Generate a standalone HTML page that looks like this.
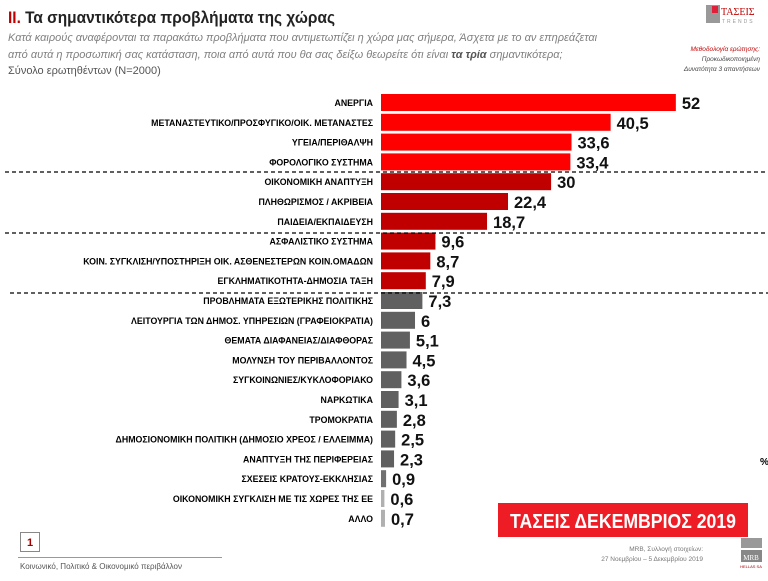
<!DOCTYPE html>
<html><head><meta charset="utf-8"><style>
body{margin:0;width:768px;height:576px;background:#fff;overflow:hidden;font-family:"Liberation Sans","DejaVu Sans",sans-serif}
</style></head><body>
<svg width="768" height="576" xmlns="http://www.w3.org/2000/svg" font-family="Liberation Sans, DejaVu Sans, sans-serif">
<text x="8" y="23" font-size="17" font-weight="bold" fill="#222" textLength="327" lengthAdjust="spacingAndGlyphs"><tspan fill="#c00000">II.</tspan> Τα σημαντικότερα προβλήματα της χώρας</text>
<text x="8" y="41" font-size="11" font-style="italic" fill="#808080">Κατά καιρούς αναφέρονται τα παρακάτω προβλήματα που αντιμετωπίζει η χώρα μας σήμερα, Άσχετα με το αν επηρεάζεται</text>
<text x="8" y="58" font-size="11" font-style="italic" fill="#808080">από αυτά η προσωπική σας κατάσταση, ποια από αυτά που θα σας δείξω θεωρείτε ότι είναι <tspan font-weight="bold" fill="#555">τα τρία</tspan> σημαντικότερα;</text>
<text x="8" y="74" font-size="11" fill="#555">Σύνολο ερωτηθέντων (N=2000)</text>
<text x="760" y="51" font-size="6.5" font-style="italic" fill="#c00000" text-anchor="end">Μεθοδολογία ερώτησης:</text>
<text x="760" y="61" font-size="6.5" font-style="italic" fill="#444" text-anchor="end">Προκωδικοποιημένη</text>
<text x="760" y="71" font-size="6.5" font-style="italic" fill="#444" text-anchor="end">Δυνατότητα 3 απαντήσεων</text>
<rect x="706" y="5" width="14" height="18" fill="#999"/><rect x="712" y="6" width="6" height="7" fill="#e0203a"/>
<text x="721" y="15" font-size="10" fill="#c00000" font-family="Liberation Serif, serif">ΤΑΣΕΙΣ</text>
<text x="722" y="23" font-size="5" fill="#999" letter-spacing="2">TRENDS</text>
<g id="rows"></g>
<g stroke="#000" stroke-width="1.3" stroke-dasharray="4,3">
<line x1="5" y1="172" x2="768" y2="172"/><line x1="5" y1="233" x2="768" y2="233"/><line x1="10" y1="293" x2="768" y2="293"/>
</g>
<text x="760" y="465" font-size="10" font-weight="bold">%</text>
<rect x="498" y="503" width="250" height="34" fill="#ee1c25"/>
<text x="510" y="528" font-size="20" font-weight="bold" fill="#fff" textLength="226" lengthAdjust="spacingAndGlyphs">ΤΑΣΕΙΣ ΔΕΚΕΜΒΡΙΟΣ 2019</text>
<rect x="20.5" y="532.5" width="19" height="19" fill="#fff" stroke="#888"/>
<text x="30" y="546" font-size="11" font-weight="bold" fill="#a00000" text-anchor="middle">1</text>
<line x1="18" y1="557.5" x2="222" y2="557.5" stroke="#999"/>
<text x="20" y="569" font-size="8" fill="#555">Κοινωνικό, Πολιτικό &amp; Οικονομικό περιβάλλον</text>
<text x="703" y="551" font-size="6.5" fill="#777" text-anchor="end">MRB, Συλλογή στοιχείων:</text>
<text x="703" y="561" font-size="6.5" fill="#777" text-anchor="end">27 Νοεμβρίου – 5 Δεκεμβρίου 2019</text>
<rect x="741" y="538" width="21" height="10" fill="#999"/><rect x="741" y="550" width="21" height="12" fill="#888"/>
<text x="751" y="560" font-size="7" fill="#fff" text-anchor="middle" font-family="Liberation Serif, serif">MRB</text>
<text x="751" y="568" font-size="4" fill="#a00" text-anchor="middle">HELLAS SA</text>
</svg>
<script>
var d=[["ΑΝΕΡΓΙΑ",52,"#fe0000"],["ΜΕΤΑΝΑΣΤΕΥΤΙΚΟ/ΠΡΟΣΦΥΓΙΚΟ/ΟΙΚ. ΜΕΤΑΝΑΣΤΕΣ",40.5,"#fe0000"],["ΥΓΕΙΑ/ΠΕΡΙΘΑΛΨΗ",33.6,"#fe0000"],["ΦΟΡΟΛΟΓΙΚΟ ΣΥΣΤΗΜΑ",33.4,"#fe0000"],["ΟΙΚΟΝΟΜΙΚΗ ΑΝΑΠΤΥΞΗ",30,"#c00000"],["ΠΛΗΘΩΡΙΣΜΟΣ / ΑΚΡΙΒΕΙΑ",22.4,"#c00000"],["ΠΑΙΔΕΙΑ/ΕΚΠΑΙΔΕΥΣΗ",18.7,"#c00000"],["ΑΣΦΑΛΙΣΤΙΚΟ ΣΥΣΤΗΜΑ",9.6,"#c00000"],["ΚΟΙΝ. ΣΥΓΚΛΙΣΗ/ΥΠΟΣΤΗΡΙΞΗ ΟΙΚ. ΑΣΘΕΝΕΣΤΕΡΩΝ ΚΟΙΝ.ΟΜΑΔΩΝ",8.7,"#c00000"],["ΕΓΚΛΗΜΑΤΙΚΟΤΗΤΑ-ΔΗΜΟΣΙΑ ΤΑΞΗ",7.9,"#c00000"],["ΠΡΟΒΛΗΜΑΤΑ ΕΞΩΤΕΡΙΚΗΣ ΠΟΛΙΤΙΚΗΣ",7.3,"#606060"],["ΛΕΙΤΟΥΡΓΙΑ ΤΩΝ ΔΗΜΟΣ. ΥΠΗΡΕΣΙΩΝ (ΓΡΑΦΕΙΟΚΡΑΤΙΑ)",6,"#606060"],["ΘΕΜΑΤΑ ΔΙΑΦΑΝΕΙΑΣ/ΔΙΑΦΘΟΡΑΣ",5.1,"#606060"],["ΜΟΛΥΝΣΗ ΤΟΥ ΠΕΡΙΒΑΛΛΟΝΤΟΣ",4.5,"#606060"],["ΣΥΓΚΟΙΝΩΝΙΕΣ/ΚΥΚΛΟΦΟΡΙΑΚΟ",3.6,"#606060"],["ΝΑΡΚΩΤΙΚΑ",3.1,"#606060"],["ΤΡΟΜΟΚΡΑΤΙΑ",2.8,"#606060"],["ΔΗΜΟΣΙΟΝΟΜΙΚΗ ΠΟΛΙΤΙΚΗ (ΔΗΜΟΣΙΟ ΧΡΕΟΣ / ΕΛΛΕΙΜΜΑ)",2.5,"#606060"],["ΑΝΑΠΤΥΞΗ ΤΗΣ ΠΕΡΙΦΕΡΕΙΑΣ",2.3,"#606060"],["ΣΧΕΣΕΙΣ ΚΡΑΤΟΥΣ-ΕΚΚΛΗΣΙΑΣ",0.9,"#707070"],["ΟΙΚΟΝΟΜΙΚΗ ΣΥΓΚΛΙΣΗ ΜΕ ΤΙΣ ΧΩΡΕΣ ΤΗΣ ΕΕ",0.6,"#b0b0b0"],["ΑΛΛΟ",0.7,"#b0b0b0"]];
var g=document.getElementById("rows"),s="";
d.forEach(function(r,i){var y=94+i*19.8,w=Math.max(r[1]*5.67,3);
s+='<rect x="381" y="'+y+'" width="'+w+'" height="17" fill="'+r[2]+'"/>';
s+='<text x="373" y="'+(y+12)+'" font-size="8.8" font-weight="bold" text-anchor="end" fill="#000">'+r[0]+'</text>';
s+='<text x="'+(381+w+6)+'" y="'+(y+15)+'" font-size="16.5" font-weight="bold" fill="#111">'+String(r[1]).replace(".",",")+'</text>';});
g.innerHTML=s;
</script>
</body></html>
